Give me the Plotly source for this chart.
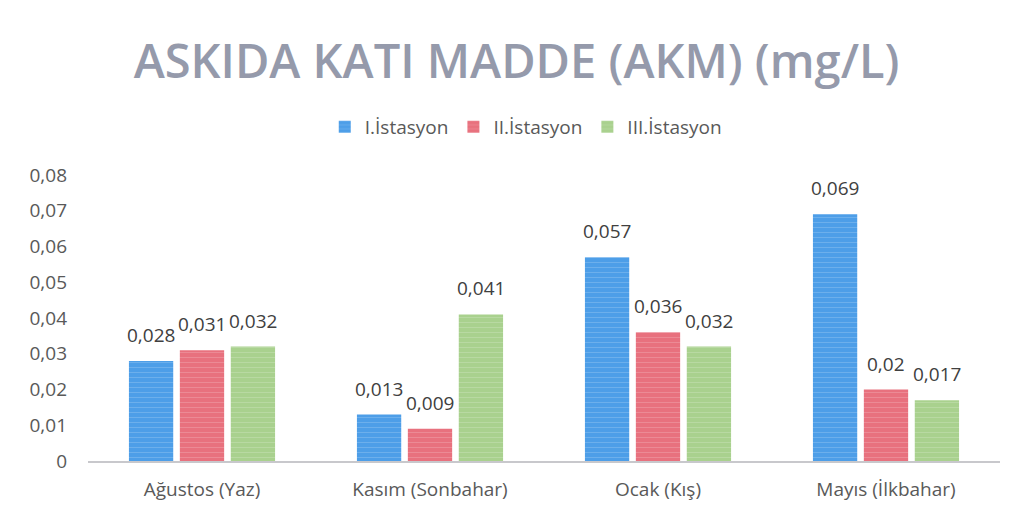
import plotly.graph_objects as go

categories = ["Ağustos (Yaz)", "Kasım (Sonbahar)", "Ocak (Kış)", "Mayıs (İlkbahar)"]
series_names = ["I.İstasyon", "II.İstasyon", "III.İstasyon"]
st1 = [0.028, 0.013, 0.057, 0.069]
st2 = [0.031, 0.009, 0.036, 0.02]
st3 = [0.032, 0.041, 0.032, 0.017]
labels1 = ["0,028", "0,013", "0,057", "0,069"]
labels2 = ["0,031", "0,009", "0,036", "0,02"]
labels3 = ["0,032", "0,041", "0,032", "0,017"]
tick_vals = [0, 0.01, 0.02, 0.03, 0.04, 0.05, 0.06, 0.07, 0.08]
tick_text = ["0", "0,01", "0,02", "0,03", "0,04", "0,05", "0,06", "0,07", "0,08"]

colors = ["#4d9ee8", "#e8717e", "#a9d18e"]
BARGAP = 0.33
fig = go.Figure()
all_vals = [st1, st2, st3]
all_labs = [labels1, labels2, labels3]
for name, vals, c in zip(series_names, all_vals, colors):
    fig.add_trace(go.Bar(
        x=categories, y=vals, name=name,
        marker=dict(color=c, line=dict(width=0),
                    pattern=dict(shape="-", fgcolor="rgba(255,255,255,0.35)", size=5, solidity=0.2)),
    ))

slot = (1 - BARGAP) / 3
for k, (vals, labs) in enumerate(zip(all_vals, all_labs)):
    for i, (v, l) in enumerate(zip(vals, labs)):
        fig.add_annotation(x=i + (k - 1) * slot, y=v, text=l, showarrow=False,
                           yanchor="bottom", yshift=11, xref="x", yref="y",
                           font=dict(family="Open Sans", size=19, color="#404040"))

fig.update_layout(
    width=1013, height=515,
    paper_bgcolor="white", plot_bgcolor="white",
    margin=dict(l=80, r=21, t=167, b=62),
    title=dict(text="ASKIDA KATI MADDE (AKM) (mg/L)", x=0.502, xanchor="center",
               y=1 - 54 / 515, yref="container", yanchor="middle",
               font=dict(family="Open Sans", size=47, weight=600, color="#959aab")),
    legend=dict(orientation="h", x=0.48, xanchor="center", y=1 - 119 / 515, yref="container",
                yanchor="middle", font=dict(family="Open Sans", size=19, color="#595959"),
                itemwidth=30),
    barmode="group", bargap=BARGAP, bargroupgap=0.13,
    font=dict(family="Open Sans", color="#595959"),
)
fig.update_xaxes(showgrid=False, showline=True, linecolor="#c8c8cc", linewidth=2,
                 tickfont=dict(size=19, color="#595959"), ticks="", ticklabelstandoff=10)
fig.update_yaxes(range=[0, 0.08], tickvals=tick_vals, ticktext=tick_text, showgrid=False,
                 zeroline=False, tickfont=dict(size=19, color="#595959"), ticks="", ticklabelstandoff=20)
fig.write_html("out.html")
